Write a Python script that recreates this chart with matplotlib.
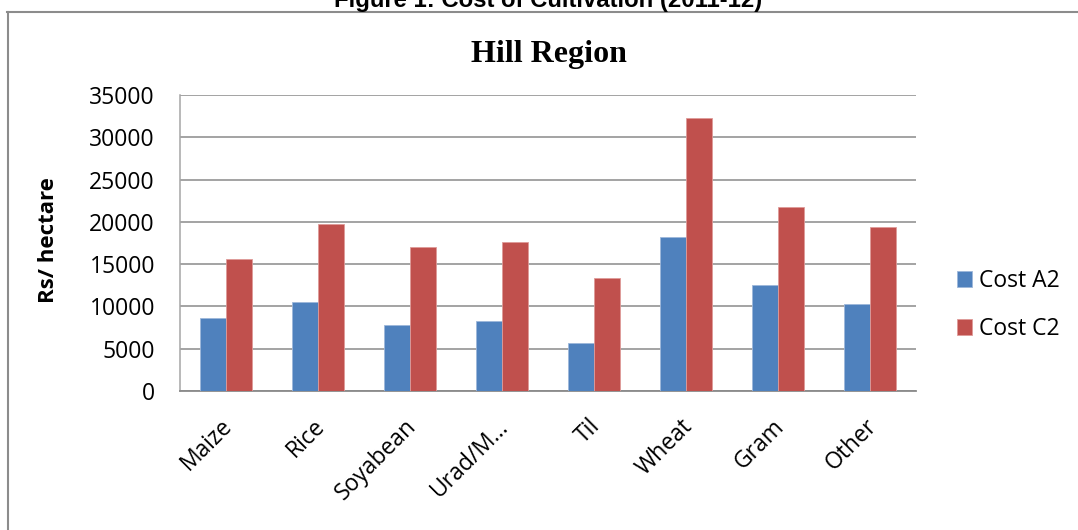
import matplotlib
matplotlib.use("Agg")
import matplotlib.pyplot as plt
from matplotlib.lines import Line2D
from matplotlib.transforms import ScaledTranslation
import numpy as np

# Cost of cultivation per hectare, Hill Region (2011-12)
crops = ["Maize", "Rice", "Soyabean", "Urad/M...", "Til", "Wheat", "Gram", "Other"]
cost_a2 = [8600, 10500, 7800, 8250, 5700, 18200, 12500, 10300]
cost_c2 = [15600, 19700, 17000, 17600, 13400, 32250, 21800, 19400]
y_ticks = [0, 5000, 10000, 15000, 20000, 25000, 30000, 35000]

blue = "#4F81BD"
red = "#C0504D"
grid_gray = "#8A8A8A"
body_font = "Open Sans"

W, H = 1078, 530
fig = plt.figure(figsize=(W / 100, H / 100), dpi=100)
fig.patch.set_facecolor("white")

ax = fig.add_axes([180 / W, 1 - 391 / H, (916 - 180) / W, (391 - 95) / H])

x = np.arange(len(crops))
bw = 1 / 3.5
ax.bar(x - bw / 2, cost_a2, width=bw, color=blue, edgecolor="#9DB7DA",
       linewidth=0.6, label="Cost A2", zorder=3)
ax.bar(x + bw / 2, cost_c2, width=bw, color=red, edgecolor="#DE9A98",
       linewidth=0.6, label="Cost C2", zorder=3)

ax.set_xlim(-0.5, len(crops) - 0.5)
ax.set_ylim(0, 35000)
ax.set_yticks(y_ticks)
ax.set_yticklabels([str(v) for v in y_ticks], fontfamily=body_font, fontsize=16.5)
ax.yaxis.grid(True, color=grid_gray, linewidth=1.1, zorder=0)
ax.set_axisbelow(True)

ax.set_xticks(x)
ax.set_xticklabels(crops, rotation=45, ha="right", va="center",
                   rotation_mode="anchor", fontfamily=body_font, fontsize=16.5)
ax.tick_params(axis="x", length=0, pad=23)
ax.tick_params(axis="y", length=0, pad=18)
shift = ScaledTranslation(3 / 100, 0, fig.dpi_scale_trans)
for lbl in ax.get_xticklabels():
    lbl.set_transform(lbl.get_transform() + shift)

for side in ["top", "right"]:
    ax.spines[side].set_visible(False)
ax.spines["left"].set_color("#A6A6A6")
ax.spines["left"].set_linewidth(1.1)
ax.spines["bottom"].set_color(grid_gray)
ax.spines["bottom"].set_linewidth(1.3)

fig.text(548.7 / W, 1 - 61.7 / H, "Hill Region", ha="center", va="baseline",
         fontfamily="Liberation Serif", fontweight="bold", fontsize=23)
fig.text(548 / W, 1 - 6.5 / H, "Figure 1: Cost of Cultivation (2011-12)",
         ha="center", va="baseline", fontfamily="Liberation Sans",
         fontweight="bold", fontsize=17.2)
fig.text(48 / W, 1 - 240 / H, "Rs/ hectare", rotation=90, ha="center",
         va="center", fontfamily=body_font, fontweight="bold", fontsize=16)

fig.legend(loc="center left", bbox_to_anchor=(957 / W, 1 - 305 / H),
           frameon=False, prop={"family": body_font, "size": 16.5},
           handlelength=0.65, handleheight=0.65, handletextpad=0.3,
           labelspacing=1.05, borderpad=0, borderaxespad=0)

# outer frame of the figure panel
fig.add_artist(Line2D([7.4 / W, 1.0], [1 - 11.8 / H, 1 - 11.8 / H],
                      transform=fig.transFigure, color="#8C8C8C", linewidth=1.5))
fig.add_artist(Line2D([8.3 / W, 8.3 / W], [0, 1 - 11.8 / H],
                      transform=fig.transFigure, color="#8C8C8C", linewidth=1.5))

fig.savefig("out.png", dpi=100)
